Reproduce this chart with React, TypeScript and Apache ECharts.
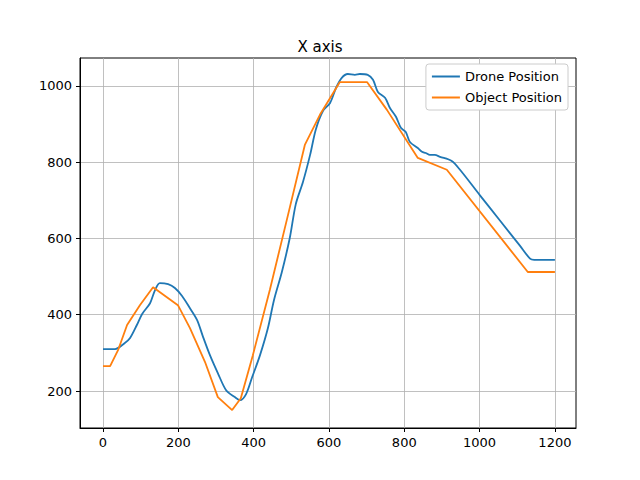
import { useEffect, useRef } from 'react';
import * as echarts from 'echarts';

const droneX = [0, 32, 58, 72, 90, 104, 125, 138, 151, 173, 191, 210, 231, 250, 265, 284, 305, 327, 350, 364, 380, 396, 417, 438, 454, 475, 496, 512, 531, 550, 565, 584, 603, 619, 634, 650, 669, 682, 703, 717, 730, 749, 762, 778, 791, 804, 815, 836, 847, 857, 868, 881, 895, 926, 948, 1001, 1054, 1107, 1134, 1145, 1200];
const droneY = [310, 310, 326, 339, 373, 402, 430, 464, 483, 480, 470, 449, 417, 386, 344, 294, 247, 202, 184, 176, 192, 236, 294, 365, 438, 512, 601, 690, 748, 819, 885, 934, 955, 995, 1021, 1031, 1029, 1031, 1029, 1016, 984, 969, 942, 919, 890, 879, 853, 837, 827, 824, 819, 819, 814, 803, 780, 713, 647, 581, 547, 544, 544];
const objectX = [0, 19, 40, 64, 98, 133, 199, 231, 271, 305, 343, 366, 398, 443, 488, 536, 576, 629, 701, 754, 836, 913, 1128, 1200];
const objectY = [265, 265, 307, 373, 425, 472, 425, 365, 276, 184, 150, 181, 294, 465, 648, 845, 924, 1010, 1010, 937, 811, 780, 512, 512];
const xTicks = [0, 200, 400, 600, 800, 1000, 1200];
const yTicks = [200, 400, 600, 800, 1000];

const zip = (xs: number[], ys: number[]) => xs.map((x, i) => [x, ys[i]]);

export default function App() {
  const ref = useRef<HTMLDivElement>(null);

  useEffect(() => {
    document.body.style.margin = '0';
    if (!ref.current) return;
    const chart = echarts.init(ref.current, undefined, { renderer: 'svg' });
    const font = 'DejaVu Sans';
    const axisCommon = {
      axisLine: { onZero: false, lineStyle: { color: '#000' } },
      axisTick: { lineStyle: { color: '#000' }, length: 4 },
      axisLabel: { color: '#000', fontSize: 13, fontFamily: font, formatter: (v: number) => String(v) },
      splitLine: { show: true, lineStyle: { color: '#b0b0b0', width: 0.8 } },
    };
    chart.setOption({
      animation: false,
      title: {
        text: 'X axis',
        left: 'center',
        top: 34,
        textStyle: { fontSize: 15, fontWeight: 'normal', color: '#000', fontFamily: font },
      },
      legend: {
        right: 72,
        top: 64,
        orient: 'vertical',
        itemWidth: 28,
        itemHeight: 2,
        itemGap: 8,
        icon: 'rect',
        backgroundColor: '#fff',
        borderColor: '#ccc',
        borderWidth: 1,
        borderRadius: 3,
        padding: [6, 6, 6, 6],
        textStyle: { fontSize: 13, color: '#000', fontFamily: font },
      },
      grid: { left: 80, right: 64, top: 58, bottom: 52, show: true, borderColor: '#000', borderWidth: 1 },
      xAxis: {
        type: 'value',
        min: -61,
        max: 1256,
        ...axisCommon,
        axisTick: { ...axisCommon.axisTick, customValues: xTicks },
        axisLabel: { ...axisCommon.axisLabel, customValues: xTicks },
      },
      yAxis: {
        type: 'value',
        min: 103,
        max: 1073,
        ...axisCommon,
        axisTick: { ...axisCommon.axisTick, customValues: yTicks },
        axisLabel: { ...axisCommon.axisLabel, customValues: yTicks },
      },
      series: [
        {
          name: 'Drone Position',
          type: 'line',
          data: zip(droneX, droneY),
          smooth: 0.3,
          showSymbol: false,
          lineStyle: { color: '#1f77b4', width: 1.8 },
          itemStyle: { color: '#1f77b4' },
        },
        {
          name: 'Object Position',
          type: 'line',
          data: zip(objectX, objectY),
          showSymbol: false,
          lineStyle: { color: '#ff7f0e', width: 1.8 },
          itemStyle: { color: '#ff7f0e' },
        },
      ],
    });
    return () => chart.dispose();
  }, []);

  return <div ref={ref} style={{ width: 640, height: 480 }} />;
}
